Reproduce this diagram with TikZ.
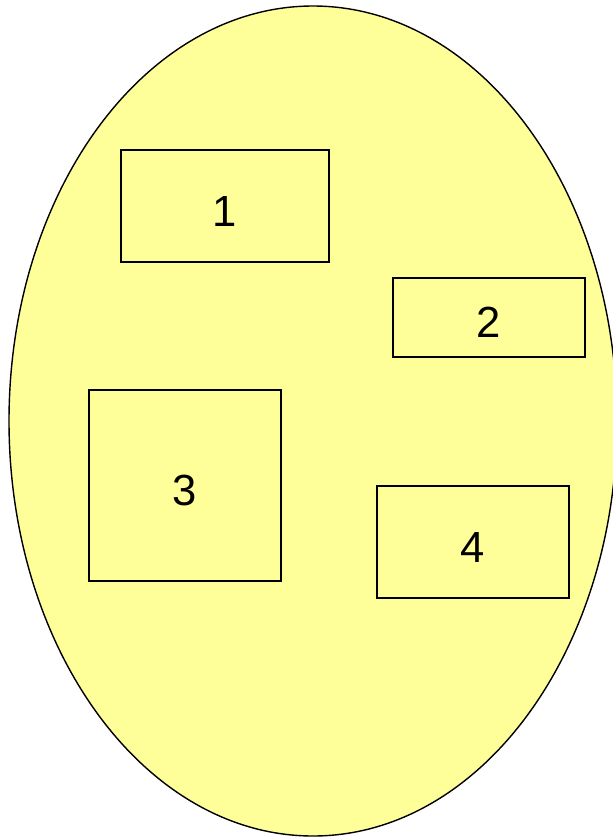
\documentclass[tikz,border=0pt]{standalone}
\usepackage{fontspec}
\setmainfont{Liberation Sans}
\usepackage{tikz}
\usetikzlibrary{positioning}
\definecolor{blobyellow}{HTML}{FFFF99}
\tikzset{
  blobline/.style={draw=black,fill=blobyellow,line width=1pt},
  regbox/.style={rectangle,draw=black,line width=1.3pt,fill=blobyellow,inner sep=0pt,
    text height=29pt,text depth=0pt,font=\fontsize{31}{37}\selectfont},
}

\begin{document}
\begin{tikzpicture}[x=0.025cm,y=-0.025cm]
  \useasboundingbox (0,0) rectangle (613,838);
  \draw[blobline] (313,421) ellipse [x radius=304,y radius=415];
  \node[regbox,minimum width=5.2cm,minimum height=2.8cm] (r1) at (225,206) {1};
  \node[regbox,minimum width=4.8cm,minimum height=1.975cm] (r2) at (489,317.5) {2};
  \node[regbox,minimum width=4.8cm,minimum height=4.775cm] (r3) at (185,485.5) {3};
  \node[regbox,minimum width=4.8cm,minimum height=2.8cm] (r4) at (473,542) {4};
\end{tikzpicture}
\end{document}
